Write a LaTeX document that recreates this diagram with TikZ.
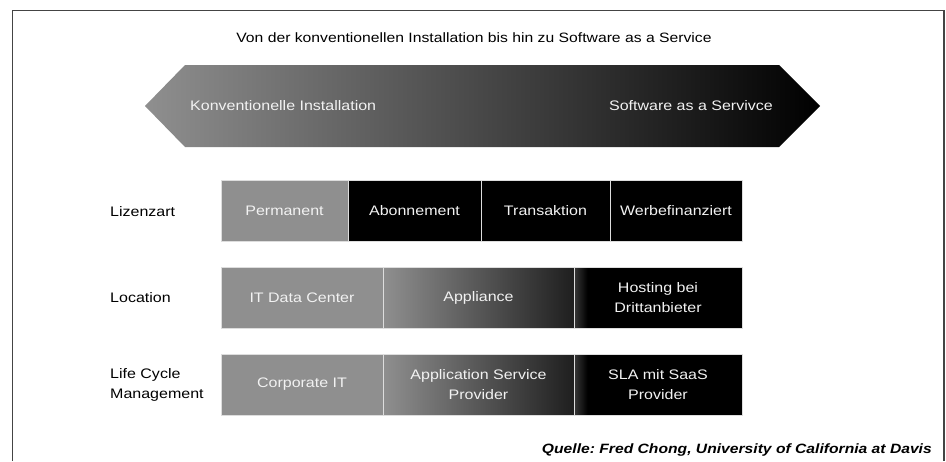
\documentclass[tikz,border=0pt]{standalone}
\usepackage{fontspec}
\setmainfont[FakeStretch=1.16]{Liberation Sans}
\frenchspacing
\definecolor{midgray}{HTML}{8F8F8F}
\definecolor{lightline}{HTML}{DDDDDD}
\definecolor{txtwhite}{HTML}{F2F2F2}
\definecolor{framecol}{HTML}{444444}
\pgfdeclarehorizontalshading{hostshade}{100bp}{color(0bp)=(black!78); color(25bp)=(black!78); color(29bp)=(black); color(100bp)=(black)}
\begin{document}
\begin{tikzpicture}[x=1pt,y=-1pt,
  every node/.style={font=\fontsize{13.8}{19.5}\selectfont},
  box/.style={anchor=north west, inner sep=0pt, outer sep=0pt, minimum height=61pt,
    draw=lightline, line width=0.6pt, text=txtwhite, align=center},
  rowlabel/.style={anchor=west, align=left, inner sep=0pt},
  arrowtext/.style={text=txtwhite, inner sep=0pt}
]
\useasboundingbox (0,0) rectangle (946,461);
% frame
\draw[framecol, line width=1.3pt] (12.7,461) -- (12.7,10.7) -- (944,10.7) -- (944,461);
% title
\node[font=\fontsize{13.55}{16}\selectfont] (title) at (474,38) {Von der konventionellen Installation bis hin zu Software as a Service};
% big arrow
\shade[left color=midgray, right color=black]
  (145,106) -- (185,65) -- (779,65) -- (820,106) -- (779,147) -- (185,147) -- cycle;
\node[arrowtext, anchor=west] (konv) at (190,106) {Konventionelle Installation};
\node[arrowtext, anchor=east] (saas) at (773,106) {Software as a Servivce};
% row labels
\node[rowlabel] (l1) at (110,212) {Lizenzart};
\node[rowlabel] (l2) at (110,298) {Location};
\node[rowlabel] (l3) at (110,385) {Life Cycle\\Management};
% row 1
\node[box, fill=midgray, minimum width=127pt] (r1a) at (221,180) {Permanent};
\node[box, fill=black, minimum width=133pt] (r1b) at (348,180) {Abonnement};
\node[box, fill=black, minimum width=129pt] (r1c) at (481,180) {Transaktion};
\node[box, fill=black, minimum width=132pt] (r1d) at (610,180) {Werbefinanziert};
% row 2
\node[box, fill=midgray, minimum width=162pt] (r2a) at (221,267) {IT Data Center};
\node[box, left color=midgray, right color=black!88, minimum width=191pt] (r2b) at (383,267) {Appliance};
\node[box, shading=hostshade, minimum width=168pt] (r2c) at (574,267) {Hosting bei\\Drittanbieter};
% row 3
\node[box, fill=midgray, minimum width=162pt] (r3a) at (221,354) {Corporate IT};
\node[box, left color=midgray, right color=black!88, minimum width=191pt] (r3b) at (383,354) {Application Service\\Provider};
\node[box, shading=hostshade, minimum width=168pt] (r3c) at (574,354) {SLA mit SaaS\\Provider};
% source
\node[anchor=east, inner sep=0pt, font=\fontsize{13.5}{15}\selectfont\bfseries\itshape] (src) at (932,450) {Quelle: Fred Chong, University of California at Davis};
\end{tikzpicture}
\end{document}
